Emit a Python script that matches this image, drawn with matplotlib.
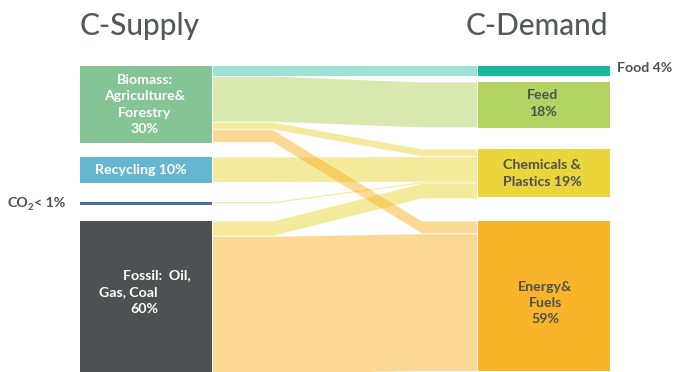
import matplotlib
matplotlib.use("Agg")
import matplotlib.pyplot as plt
from matplotlib.patches import Rectangle, Polygon
from matplotlib.colors import to_rgba

# ---- data -------------------------------------------------------------
supply_names = ["Biomass", "Recycling", "CO2", "Fossil"]
supply_pct = [30, 10, 1, 60]

demand_names = ["Food", "Feed", "Chemicals", "Energy"]
demand_pct = [4, 18, 19, 59]

flow_src = ["Biomass", "Biomass", "Biomass", "Biomass",
            "Recycling", "CO2", "Fossil", "Fossil"]
flow_dst = ["Food", "Feed", "Chemicals", "Energy",
            "Chemicals", "Chemicals", "Chemicals", "Energy"]
flow_pct = [4, 18, 3, 5, 10, 0.5, 6, 54]

supply_labels = ["Biomass:\nAgriculture&\nForestry\n30%", "Recycling 10%", "", ""]
demand_labels = ["", "Feed\n18%", "Chemicals &\nPlastics 19%", "Energy&\nFuels\n59%"]

# ---- style / layout ---------------------------------------------------
W, H = 677, 372
PX_PER_PCT = 2.55
LEFT_X = (80, 212)
RIGHT_X = (478, 610)
LEFT_TOPS = [66, 157, 202, 221]
RIGHT_TOPS = [66, 82, 149, 221]
BEND = (273, 422)

supply_colors = ["#85c595", "#67b6cf", "#4a6e99", "#4d5152"]
demand_colors = ["#18b89c", "#b3d462", "#ead63a", "#f9b42a"]
flow_alpha = {"Food": 0.42, "Feed": 0.5, "Chemicals": 0.5, "Energy": 0.5}

TEXT_DARK = "#4d5152"
FONT = "Lato"
LAB_SIZE = 10.2

fig = plt.figure(figsize=(W / 100, H / 100), dpi=100)
ax = fig.add_axes([0, 0, 1, 1])
ax.set_xlim(0, W)
ax.set_ylim(H, 0)
ax.axis("off")

# ---- nodes ------------------------------------------------------------
for name, pct, top, col in zip(supply_names, supply_pct, LEFT_TOPS, supply_colors):
    ax.add_patch(Rectangle((LEFT_X[0], top), LEFT_X[1] - LEFT_X[0], pct * PX_PER_PCT,
                           facecolor=col, edgecolor="none", zorder=3))
for name, pct, top, col in zip(demand_names, demand_pct, RIGHT_TOPS, demand_colors):
    ax.add_patch(Rectangle((RIGHT_X[0], top), RIGHT_X[1] - RIGHT_X[0], pct * PX_PER_PCT,
                           facecolor=col, edgecolor="none", zorder=3))

# ---- flows ------------------------------------------------------------
out_cursor = {n: t for n, t in zip(supply_names, LEFT_TOPS)}
in_cursor = {n: t for n, t in zip(demand_names, RIGHT_TOPS)}
# stack outgoing flows in target order, incoming flows in source order
out_order = sorted(range(len(flow_pct)),
                   key=lambda i: (supply_names.index(flow_src[i]), demand_names.index(flow_dst[i])))
y_left = {}
for i in out_order:
    y_left[i] = out_cursor[flow_src[i]]
    out_cursor[flow_src[i]] += flow_pct[i] * PX_PER_PCT
in_order = sorted(range(len(flow_pct)),
                  key=lambda i: (demand_names.index(flow_dst[i]), supply_names.index(flow_src[i])))
y_right = {}
for i in in_order:
    y_right[i] = in_cursor[flow_dst[i]]
    in_cursor[flow_dst[i]] += flow_pct[i] * PX_PER_PCT

x0, x1 = LEFT_X[1] + 1, RIGHT_X[0] - 1
inset = 0.45
for i in range(len(flow_pct)):
    h = flow_pct[i] * PX_PER_PCT
    a, b = y_left[i], y_right[i]
    ins = inset if h > 2 else 0
    top = [(x0, a + ins), (BEND[0], a + ins), (BEND[1], b + ins), (x1, b + ins)]
    bot = [(x1, b + h - ins), (BEND[1], b + h - ins), (BEND[0], a + h - ins), (x0, a + h - ins)]
    col = demand_colors[demand_names.index(flow_dst[i])]
    z = 2 if flow_dst[i] == "Energy" else 1
    ax.add_patch(Polygon(top + bot, closed=True,
                         facecolor=to_rgba(col, flow_alpha[flow_dst[i]]),
                         edgecolor="none", zorder=z))

# ---- text -------------------------------------------------------------
title_kw = dict(fontsize=21.5, family=FONT, fontweight="medium", color="#54585a",
                va="baseline")
ax.text(LEFT_X[0], 35, "C-Supply", ha="left", **title_kw)
ax.text(RIGHT_X[1] - 2, 35, "C-Demand", ha="right", **title_kw)

lab_kw = dict(fontsize=LAB_SIZE, family=FONT, fontweight="bold", ha="center",
              va="center", linespacing=1.42, zorder=5)
ax.text(145, 104.5, supply_labels[0], color="white", **lab_kw)
ax.text(141, 170, supply_labels[1], color="white", **lab_kw)
ax.text(157, 275, "Fossil:  Oil,", color="white", **lab_kw)
ax.text(128, 292, "Gas, Coal", color="white", **lab_kw)
ax.text(144, 309, "60%", color="white", **lab_kw)

ax.text(543, 103.5, demand_labels[1], color=TEXT_DARK, **lab_kw)
ax.text(542, 173.5, demand_labels[2], color=TEXT_DARK, **lab_kw)
ax.text(545, 303, demand_labels[3], color=TEXT_DARK, **lab_kw)
ax.text(617, 68.5, "Food 4%", color=TEXT_DARK, fontsize=LAB_SIZE, family=FONT,
        fontweight="bold", ha="left", va="center")

# CO2 label with a subscript 2
fig.canvas.draw()
r = fig.canvas.get_renderer()
t_co = ax.text(8, 203, "CO", color=TEXT_DARK, fontsize=LAB_SIZE, family=FONT,
               fontweight="bold", ha="left", va="center")
bb = t_co.get_window_extent(r)
x_sub = bb.x1 / fig.dpi * 100  # pixel units equal data units horizontally
t_sub = ax.text(x_sub - 1, 207, "2", color=TEXT_DARK, fontsize=6.8, family=FONT,
                fontweight="bold", ha="left", va="center")
bb2 = t_sub.get_window_extent(r)
ax.text(bb2.x1 + 0.5, 203, "< 1%", color=TEXT_DARK, fontsize=LAB_SIZE, family=FONT,
        fontweight="bold", ha="left", va="center")

fig.savefig("out.png", dpi=100)
